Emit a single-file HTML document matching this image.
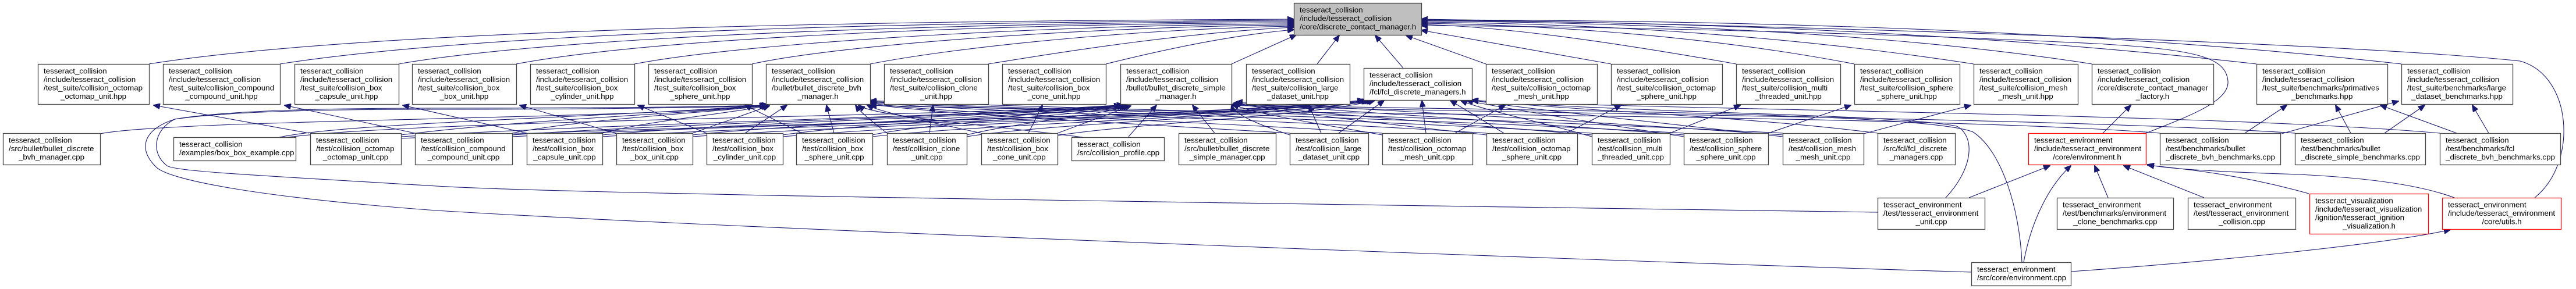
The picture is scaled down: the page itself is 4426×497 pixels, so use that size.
<!DOCTYPE html>
<html><head><meta charset="utf-8"><style>
html,body{margin:0;padding:0;background:#fff;}
svg{display:block;}
text{font-family:"Liberation Sans",Arial,sans-serif;font-size:13.3px;fill:#000;}
.n{fill:#fff;stroke:#444;stroke-width:1.3;}
.r{fill:#fff;stroke:#ff0000;stroke-width:1.3;}
.m{fill:#bfbfbf;stroke:#444;stroke-width:1.3;}
.e{fill:none;stroke:#191970;stroke-width:1.1;marker-end:url(#a);}
</style></head><body>
<svg width="4426" height="497" viewBox="0 0 4426 497" xmlns="http://www.w3.org/2000/svg">
<defs><marker id="a" markerUnits="userSpaceOnUse" markerWidth="12" markerHeight="10" refX="11" refY="5" orient="auto"><path d="M0,0 L12,5 L0,10 Z" fill="#191970" stroke="#191970"/></marker></defs>

<!-- edges to main -->
<path class="e" d="M256,110 C700,40 1800,35 2223,33"/>
<path class="e" d="M481,110 C900,45 1800,37 2223,35"/>
<path class="e" d="M685,110 C1000,55 1800,38 2223,37"/>
<path class="e" d="M887,110 C1150,60 1800,40 2223,39"/>
<path class="e" d="M1090,110 C1300,70 1850,42 2223,41"/>
<path class="e" d="M1292,110 C1450,75 1900,45 2223,43"/>
<path class="e" d="M1495,110 C1650,80 1950,50 2223,45"/>
<path class="e" d="M1698,110 C1850,85 2050,55 2223,47"/>
<path class="e" d="M1900,110 C2000,85 2120,60 2223,51"/>
<path class="e" d="M2116,110 L2227,60"/>
<path class="e" d="M2263,110 L2301,61"/>
<path class="e" d="M2411,117 L2363,61"/>
<path class="e" d="M2553,110 L2416,61"/>
<path class="e" d="M2768,110 L2442,52"/>
<path class="e" d="M2983,110 C2700,60 2550,45 2442,42"/>
<path class="e" d="M3186,110 C2900,55 2600,42 2442,40"/>
<path class="e" d="M3391,110 C3000,50 2650,40 2442,38"/>
<path class="e" d="M3594,110 C3200,48 2700,38 2442,36"/>
<path class="e" d="M3877,110 C3300,45 2750,37 2442,35"/>
<path class="e" d="M4126,110 C3500,40 2800,35 2442,34"/>
<path class="e" d="M4355,340 C4430,280 4420,130 4330,105 C4000,70 2900,40 2442,33"/>
<path class="e" d="M3687,229 C3760,200 3830,175 3828,140 C3825,100 3780,85 3600,75 C3200,55 2700,45 2442,44"/>

<!-- row2 to own hpp -->
<path class="e" d="M172,230 C300,205 1100,205 1316,181"/>
<path class="e" d="M480,236 C600,210 1100,200 1320,180"/>
<path class="e" d="M480,238 C700,205 1700,200 1930,180"/>
<path class="e" d="M531,229 L264,181"/>
<path class="e" d="M713,229 L489,181"/>
<path class="e" d="M905,229 L692,181"/>
<path class="e" d="M1058,229 L893,181"/>
<path class="e" d="M1214,229 L1096,181"/>
<path class="e" d="M1378,229 L1280,181"/>
<path class="e" d="M1597,229 L1603,181"/>
<path class="e" d="M1767,229 L1791,181"/>
<path class="e" d="M1939,235 L1987,181"/>
<path class="e" d="M1860,236 C1700,215 1500,200 1475,181"/>
<path class="e" d="M2087,229 L2049,181"/>
<path class="e" d="M2270,229 L2249,181"/>
<path class="e" d="M2450,229 L2443,173"/>
<path class="e" d="M2500,229 L2586,181"/>
<path class="e" d="M2691,229 L2785,181"/>
<path class="e" d="M2584,229 L2492,173"/>
<path class="e" d="M2869,229 L2990,181"/>
<path class="e" d="M3038,229 L3180,181"/>
<path class="e" d="M3202,230 L3386,181"/>
<path class="e" d="M3226,229 C3000,200 2700,190 2529,172"/>
<path class="e" d="M3857,229 L3929,181"/>
<path class="e" d="M3920,230 L4121,174"/>
<path class="e" d="M4039,229 L4013,181"/>
<path class="e" d="M4097,229 L4166,181"/>
<path class="e" d="M4276,229 L4248,181"/>
<path class="e" d="M4221,229 L4090,181"/>
<path class="e" d="M3711,229 C3300,195 1900,195 1495,181"/>
<path class="e" d="M3943,229 C3500,200 2500,195 2116,181"/>
<path class="e" d="M4192,229 C3800,195 2900,190 2529,173"/>
<path class="e" d="M3613,229 L3661,181"/>

<!-- managers -->
<path class="e" d="M689,232 C900,205 1200,195 1316,181"/>
<path class="e" d="M689,235 C1100,210 1700,200 1925,181"/>
<path class="e" d="M689,238 C1200,215 2100,200 2343,172"/>
<path class="e" d="M880,229 C1000,205 1200,195 1318,182"/>
<path class="e" d="M880,232 C1200,210 1700,200 1927,182"/>
<path class="e" d="M880,235 C1300,212 2100,200 2345,173"/>
<path class="e" d="M1035,229 C1100,210 1250,195 1320,182"/>
<path class="e" d="M1035,232 C1300,208 1750,200 1930,182"/>
<path class="e" d="M1035,235 C1400,212 2150,200 2350,173"/>
<path class="e" d="M1190,229 L1322,182"/>
<path class="e" d="M1190,232 C1400,210 1800,200 1932,182"/>
<path class="e" d="M1190,235 C1500,212 2150,200 2352,173"/>
<path class="e" d="M1280,229 L1352,181"/>
<path class="e" d="M1345,232 C1500,210 1800,200 1935,182"/>
<path class="e" d="M1345,235 C1600,212 2150,200 2355,173"/>
<path class="e" d="M1433,229 L1420,181"/>
<path class="e" d="M1499,232 C1600,210 1850,200 1938,182"/>
<path class="e" d="M1499,235 C1700,212 2200,200 2358,173"/>
<path class="e" d="M1524,229 C1500,210 1480,195 1470,181"/>
<path class="e" d="M1661,232 C1750,210 1880,200 1940,182"/>
<path class="e" d="M1661,235 C1800,212 2200,200 2360,173"/>
<path class="e" d="M1686,229 C1600,210 1520,195 1490,181"/>
<path class="e" d="M1817,229 L1943,182"/>
<path class="e" d="M1817,233 C1950,212 2250,200 2362,173"/>
<path class="e" d="M2216,229 C1900,210 1600,195 1495,179"/>
<path class="e" d="M2216,232 C2150,210 2120,195 2116,181"/>
<path class="e" d="M2300,229 L2378,173"/>
<path class="e" d="M2375,229 C2000,205 1600,195 1495,177"/>
<path class="e" d="M2375,232 C2250,210 2150,195 2118,179"/>
<path class="e" d="M2554,229 C2100,200 1650,192 1495,176"/>
<path class="e" d="M2554,232 C2300,205 2200,190 2120,178"/>
<path class="e" d="M2735,229 C2200,198 1700,190 1495,175"/>
<path class="e" d="M2735,232 C2400,205 2200,190 2120,177"/>
<path class="e" d="M2735,235 C2650,210 2550,190 2510,173"/>
<path class="e" d="M2893,229 C2300,196 1700,188 1495,174"/>
<path class="e" d="M2893,232 C2500,202 2250,188 2122,176"/>
<path class="e" d="M2893,235 C2700,205 2580,185 2520,173"/>
<path class="e" d="M3063,229 C2400,195 1800,187 1495,173"/>
<path class="e" d="M3063,232 C2600,200 2300,186 2124,175"/>
<path class="e" d="M3063,235 C2800,205 2600,185 2529,172"/>

<!-- environment edges -->
<path class="e" d="M3226,365 C2200,350 1000,335 750,320 C450,302 300,295 287,285 C260,265 262,225 300,205 C400,188 600,186 750,186 C1000,186 1200,184 1316,181"/>
<path class="e" d="M3387,468 C2500,440 1200,390 750,362 C450,340 290,310 268,287 C240,260 240,225 300,205 C400,190 600,188 750,188 C1000,188 1250,185 1318,181"/>
<path class="e" d="M3343,340 C3390,290 3395,235 3362,217 C3250,195 2800,195 2529,172"/>
<path class="e" d="M3474,451 C3470,360 3440,260 3390,227 C3300,190 2500,190 2116,180"/>
<path class="e" d="M3383,340 L3522,285"/>
<path class="e" d="M3622,340 L3599,285"/>
<path class="e" d="M3787,340 L3649,285"/>
<path class="e" d="M3967,333 C3850,300 3750,290 3690,284"/>
<path class="e" d="M4217,340 C4150,315 4050,305 3950,300 C3800,295 3720,290 3690,283"/>
<path class="e" d="M3477,451 C3490,380 3520,320 3558,285"/>
<path class="e" d="M3558,467 C3800,450 4100,420 4210,395"/>

<!-- nodes -->
<rect class="m" x="2223.5" y="5.5" width="219" height="55"/>
<text x="2233" y="21.5">tesseract_collision</text><text x="2233" y="36">/include/tesseract_collision</text><text x="2233" y="50.5">/core/discrete_contact_manager.h</text>

<rect class="n" x="65.5" y="110.5" width="191" height="69"/>
<text x="75" y="126.5">tesseract_collision</text><text x="75" y="141">/include/tesseract_collision</text><text x="75" y="155.5">/test_suite/collision_octomap</text><text x="160.5" y="170" text-anchor="middle">_octomap_unit.hpp</text>

<rect class="n" x="280.5" y="110.5" width="201" height="69"/>
<text x="290" y="126.5">tesseract_collision</text><text x="290" y="141">/include/tesseract_collision</text><text x="290" y="155.5">/test_suite/collision_compound</text><text x="380.5" y="170" text-anchor="middle">_compound_unit.hpp</text>

<rect class="n" x="506.5" y="110.5" width="179" height="69"/>
<text x="516" y="126.5">tesseract_collision</text><text x="516" y="141">/include/tesseract_collision</text><text x="516" y="155.5">/test_suite/collision_box</text><text x="595.5" y="170" text-anchor="middle">_capsule_unit.hpp</text>

<rect class="n" x="708.5" y="110.5" width="179" height="69"/>
<text x="718" y="126.5">tesseract_collision</text><text x="718" y="141">/include/tesseract_collision</text><text x="718" y="155.5">/test_suite/collision_box</text><text x="797.5" y="170" text-anchor="middle">_box_unit.hpp</text>

<rect class="n" x="911.5" y="110.5" width="179" height="69"/>
<text x="921" y="126.5">tesseract_collision</text><text x="921" y="141">/include/tesseract_collision</text><text x="921" y="155.5">/test_suite/collision_box</text><text x="1000.5" y="170" text-anchor="middle">_cylinder_unit.hpp</text>

<rect class="n" x="1114.5" y="110.5" width="178" height="69"/>
<text x="1124" y="126.5">tesseract_collision</text><text x="1124" y="141">/include/tesseract_collision</text><text x="1124" y="155.5">/test_suite/collision_box</text><text x="1203" y="170" text-anchor="middle">_sphere_unit.hpp</text>

<rect class="n" x="1316.5" y="110.5" width="179" height="69"/>
<text x="1326" y="126.5">tesseract_collision</text><text x="1326" y="141">/include/tesseract_collision</text><text x="1326" y="155.5">/bullet/bullet_discrete_bvh</text><text x="1405.5" y="170" text-anchor="middle">_manager.h</text>

<rect class="n" x="1519.5" y="110.5" width="179" height="69"/>
<text x="1529" y="126.5">tesseract_collision</text><text x="1529" y="141">/include/tesseract_collision</text><text x="1529" y="155.5">/test_suite/collision_clone</text><text x="1608.5" y="170" text-anchor="middle">_unit.hpp</text>

<rect class="n" x="1722.5" y="110.5" width="178" height="69"/>
<text x="1732" y="126.5">tesseract_collision</text><text x="1732" y="141">/include/tesseract_collision</text><text x="1732" y="155.5">/test_suite/collision_box</text><text x="1811" y="170" text-anchor="middle">_cone_unit.hpp</text>

<rect class="n" x="1925.5" y="110.5" width="191" height="69"/>
<text x="1935" y="126.5">tesseract_collision</text><text x="1935" y="141">/include/tesseract_collision</text><text x="1935" y="155.5">/bullet/bullet_discrete_simple</text><text x="2020.5" y="170" text-anchor="middle">_manager.h</text>

<rect class="n" x="2141.5" y="110.5" width="178" height="69"/>
<text x="2151" y="126.5">tesseract_collision</text><text x="2151" y="141">/include/tesseract_collision</text><text x="2151" y="155.5">/test_suite/collision_large</text><text x="2230" y="170" text-anchor="middle">_dataset_unit.hpp</text>

<rect class="n" x="2343.5" y="117.5" width="186" height="55"/>
<text x="2353" y="133.5">tesseract_collision</text><text x="2353" y="148">/include/tesseract_collision</text><text x="2353" y="162.5">/fcl/fcl_discrete_managers.h</text>

<rect class="n" x="2553.5" y="110.5" width="191" height="69"/>
<text x="2563" y="126.5">tesseract_collision</text><text x="2563" y="141">/include/tesseract_collision</text><text x="2563" y="155.5">/test_suite/collision_octomap</text><text x="2648.5" y="170" text-anchor="middle">_mesh_unit.hpp</text>

<rect class="n" x="2768.5" y="110.5" width="191" height="69"/>
<text x="2778" y="126.5">tesseract_collision</text><text x="2778" y="141">/include/tesseract_collision</text><text x="2778" y="155.5">/test_suite/collision_octomap</text><text x="2863.5" y="170" text-anchor="middle">_sphere_unit.hpp</text>

<rect class="n" x="2983.5" y="110.5" width="179" height="69"/>
<text x="2993" y="126.5">tesseract_collision</text><text x="2993" y="141">/include/tesseract_collision</text><text x="2993" y="155.5">/test_suite/collision_multi</text><text x="3072.5" y="170" text-anchor="middle">_threaded_unit.hpp</text>

<rect class="n" x="3186.5" y="110.5" width="181" height="69"/>
<text x="3196" y="126.5">tesseract_collision</text><text x="3196" y="141">/include/tesseract_collision</text><text x="3196" y="155.5">/test_suite/collision_sphere</text><text x="3276.5" y="170" text-anchor="middle">_sphere_unit.hpp</text>

<rect class="n" x="3391.5" y="110.5" width="179" height="69"/>
<text x="3401" y="126.5">tesseract_collision</text><text x="3401" y="141">/include/tesseract_collision</text><text x="3401" y="155.5">/test_suite/collision_mesh</text><text x="3480.5" y="170" text-anchor="middle">_mesh_unit.hpp</text>

<rect class="n" x="3594.5" y="110.5" width="209" height="69"/>
<text x="3604" y="126.5">tesseract_collision</text><text x="3604" y="141">/include/tesseract_collision</text><text x="3604" y="155.5">/core/discrete_contact_manager</text><text x="3698.5" y="170" text-anchor="middle">_factory.h</text>

<rect class="n" x="3877.5" y="110.5" width="225" height="69"/>
<text x="3887" y="126.5">tesseract_collision</text><text x="3887" y="141">/include/tesseract_collision</text><text x="3887" y="155.5">/test_suite/benchmarks/primatives</text><text x="3989.5" y="170" text-anchor="middle">_benchmarks.hpp</text>

<rect class="n" x="4126.5" y="110.5" width="191" height="69"/>
<text x="4136" y="126.5">tesseract_collision</text><text x="4136" y="141">/include/tesseract_collision</text><text x="4136" y="155.5">/test_suite/benchmarks/large</text><text x="4221.5" y="170" text-anchor="middle">_dataset_benchmarks.hpp</text>

<!-- row 2 -->
<rect class="n" x="5.5" y="229.5" width="167" height="54"/>
<text x="15" y="245.5">tesseract_collision</text><text x="15" y="260">/src/bullet/bullet_discrete</text><text x="88.5" y="274.5" text-anchor="middle">_bvh_manager.cpp</text>

<rect class="n" x="298.5" y="236.5" width="210" height="40"/>
<text x="308" y="252.5">tesseract_collision</text><text x="308" y="267">/examples/box_box_example.cpp</text>

<rect class="n" x="533.5" y="229.5" width="156" height="54"/>
<text x="543" y="245.5">tesseract_collision</text><text x="543" y="260">/test/collision_octomap</text><text x="611" y="274.5" text-anchor="middle">_octomap_unit.cpp</text>

<rect class="n" x="713.5" y="229.5" width="167" height="54"/>
<text x="723" y="245.5">tesseract_collision</text><text x="723" y="260">/test/collision_compound</text><text x="796.5" y="274.5" text-anchor="middle">_compound_unit.cpp</text>

<rect class="n" x="905.5" y="229.5" width="130" height="54"/>
<text x="915" y="245.5">tesseract_collision</text><text x="915" y="260">/test/collision_box</text><text x="970" y="274.5" text-anchor="middle">_capsule_unit.cpp</text>

<rect class="n" x="1059.5" y="229.5" width="131" height="54"/>
<text x="1069" y="245.5">tesseract_collision</text><text x="1069" y="260">/test/collision_box</text><text x="1124.5" y="274.5" text-anchor="middle">_box_unit.cpp</text>

<rect class="n" x="1214.5" y="229.5" width="131" height="54"/>
<text x="1224" y="245.5">tesseract_collision</text><text x="1224" y="260">/test/collision_box</text><text x="1279.5" y="274.5" text-anchor="middle">_cylinder_unit.cpp</text>

<rect class="n" x="1368.5" y="229.5" width="131" height="54"/>
<text x="1378" y="245.5">tesseract_collision</text><text x="1378" y="260">/test/collision_box</text><text x="1433.5" y="274.5" text-anchor="middle">_sphere_unit.cpp</text>

<rect class="n" x="1524.5" y="229.5" width="137" height="54"/>
<text x="1534" y="245.5">tesseract_collision</text><text x="1534" y="260">/test/collision_clone</text><text x="1592.5" y="274.5" text-anchor="middle">_unit.cpp</text>

<rect class="n" x="1686.5" y="229.5" width="131" height="54"/>
<text x="1696" y="245.5">tesseract_collision</text><text x="1696" y="260">/test/collision_box</text><text x="1751.5" y="274.5" text-anchor="middle">_cone_unit.cpp</text>

<rect class="n" x="1841.5" y="236.5" width="159" height="40"/>
<text x="1851" y="252.5">tesseract_collision</text><text x="1851" y="267">/src/collision_profile.cpp</text>

<rect class="n" x="2025.5" y="229.5" width="167" height="54"/>
<text x="2035" y="245.5">tesseract_collision</text><text x="2035" y="260">/src/bullet/bullet_discrete</text><text x="2108.5" y="274.5" text-anchor="middle">_simple_manager.cpp</text>

<rect class="n" x="2216.5" y="229.5" width="135" height="54"/>
<text x="2226" y="245.5">tesseract_collision</text><text x="2226" y="260">/test/collision_large</text><text x="2283.5" y="274.5" text-anchor="middle">_dataset_unit.cpp</text>

<rect class="n" x="2375.5" y="229.5" width="155" height="54"/>
<text x="2385" y="245.5">tesseract_collision</text><text x="2385" y="260">/test/collision_octomap</text><text x="2452.5" y="274.5" text-anchor="middle">_mesh_unit.cpp</text>

<rect class="n" x="2554.5" y="229.5" width="156" height="54"/>
<text x="2564" y="245.5">tesseract_collision</text><text x="2564" y="260">/test/collision_octomap</text><text x="2632" y="274.5" text-anchor="middle">_sphere_unit.cpp</text>

<rect class="n" x="2735.5" y="229.5" width="134" height="54"/>
<text x="2745" y="245.5">tesseract_collision</text><text x="2745" y="260">/test/collision_multi</text><text x="2802" y="274.5" text-anchor="middle">_threaded_unit.cpp</text>

<rect class="n" x="2893.5" y="229.5" width="145" height="54"/>
<text x="2903" y="245.5">tesseract_collision</text><text x="2903" y="260">/test/collision_sphere</text><text x="2965.5" y="274.5" text-anchor="middle">_sphere_unit.cpp</text>

<rect class="n" x="3063.5" y="229.5" width="139" height="54"/>
<text x="3073" y="245.5">tesseract_collision</text><text x="3073" y="260">/test/collision_mesh</text><text x="3132.5" y="274.5" text-anchor="middle">_mesh_unit.cpp</text>

<rect class="n" x="3226.5" y="229.5" width="133" height="54"/>
<text x="3236" y="245.5">tesseract_collision</text><text x="3236" y="260">/src/fcl/fcl_discrete</text><text x="3292.5" y="274.5" text-anchor="middle">_managers.cpp</text>

<rect class="r" x="3485.5" y="229.5" width="202" height="54"/>
<text x="3495" y="245.5">tesseract_environment</text><text x="3495" y="260">/include/tesseract_environment</text><text x="3586" y="274.5" text-anchor="middle">/core/environment.h</text>

<rect class="n" x="3711.5" y="229.5" width="207" height="54"/>
<text x="3721" y="245.5">tesseract_collision</text><text x="3721" y="260">/test/benchmarks/bullet</text><text x="3815" y="274.5" text-anchor="middle">_discrete_bvh_benchmarks.cpp</text>

<rect class="n" x="3943.5" y="229.5" width="224" height="54"/>
<text x="3953" y="245.5">tesseract_collision</text><text x="3953" y="260">/test/benchmarks/bullet</text><text x="4055.5" y="274.5" text-anchor="middle">_discrete_simple_benchmarks.cpp</text>

<rect class="n" x="4192.5" y="229.5" width="207" height="54"/>
<text x="4202" y="245.5">tesseract_collision</text><text x="4202" y="260">/test/benchmarks/fcl</text><text x="4296" y="274.5" text-anchor="middle">_discrete_bvh_benchmarks.cpp</text>

<!-- row 3 -->
<rect class="n" x="3226.5" y="340.5" width="184" height="54"/>
<text x="3236" y="356.5">tesseract_environment</text><text x="3236" y="371">/test/tesseract_environment</text><text x="3318.5" y="385.5" text-anchor="middle">_unit.cpp</text>

<rect class="n" x="3534.5" y="340.5" width="200" height="54"/>
<text x="3544" y="356.5">tesseract_environment</text><text x="3544" y="371">/test/benchmarks/environment</text><text x="3634.5" y="385.5" text-anchor="middle">_clone_benchmarks.cpp</text>

<rect class="n" x="3759.5" y="340.5" width="185" height="54"/>
<text x="3769" y="356.5">tesseract_environment</text><text x="3769" y="371">/test/tesseract_environment</text><text x="3852" y="385.5" text-anchor="middle">_collision.cpp</text>

<rect class="r" x="3968.5" y="333.5" width="204" height="69"/>
<text x="3978" y="349.5">tesseract_visualization</text><text x="3978" y="364">/include/tesseract_visualization</text><text x="3978" y="378.5">/ignition/tesseract_ignition</text><text x="4070.5" y="393" text-anchor="middle">_visualization.h</text>

<rect class="r" x="4196.5" y="340.5" width="204" height="54"/>
<text x="4206" y="356.5">tesseract_environment</text><text x="4206" y="371">/include/tesseract_environment</text><text x="4298.5" y="385.5" text-anchor="middle">/core/utils.h</text>

<rect class="n" x="3387.5" y="451.5" width="171" height="40"/>
<text x="3397" y="467.5">tesseract_environment</text><text x="3397" y="482">/src/core/environment.cpp</text>
</svg>
</body></html>
